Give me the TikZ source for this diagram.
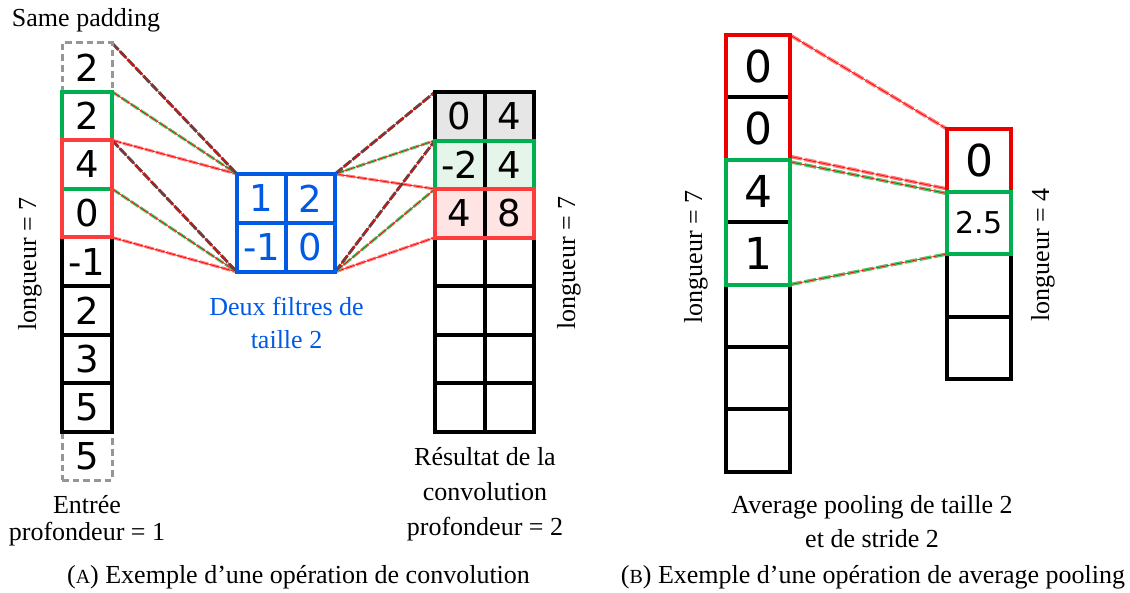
\documentclass[tikz,border=0pt]{standalone}
\usepackage{fontspec}
\setmainfont{Liberation Serif}
\newfontfamily\numf{DejaVu Sans}
\pgfdeclarelayer{bg}
\pgfsetlayers{bg,main}
\definecolor{cred}{RGB}{255,60,60}
\definecolor{cgreen}{RGB}{0,176,80}
\definecolor{pred}{RGB}{235,0,0}
\definecolor{fblue}{RGB}{0,90,230}
\definecolor{pgray}{RGB}{150,150,150}
\definecolor{fillgray}{RGB}{230,230,230}
\definecolor{fillgreen}{RGB}{229,245,234}
\definecolor{fillred}{RGB}{255,228,228}
\definecolor{linkdark}{RGB}{90,70,70}
\definecolor{linkgreen}{RGB}{80,200,110}
\definecolor{linkpink}{RGB}{255,120,120}
\begin{document}
\begin{tikzpicture}[x=0.75pt,y=-0.75pt,
  incell/.style={minimum width=37.5pt, minimum height=36.45pt, inner sep=0pt, outer sep=0pt, font=\numf\fontsize{27.75}{30}\selectfont},
  fcell/.style={minimum width=36.75pt, minimum height=36.75pt, inner sep=0pt, outer sep=0pt, draw=fblue, line width=3pt, text=fblue, font=\numf\fontsize{27.75}{30}\selectfont},
  ocell/.style={minimum width=37.125pt, minimum height=36.375pt, inner sep=0pt, outer sep=0pt, draw=black, line width=3pt, font=\numf\fontsize{27.75}{30}\selectfont},
  pcell/.style={minimum width=48pt, minimum height=46.8pt, inner sep=0pt, outer sep=0pt, draw=black, line width=3pt, font=\numf\fontsize{33}{36}\selectfont},
  blackcell/.style={draw=black, line width=3pt},
  padcell/.style={draw=pgray, line width=2.25pt, dash pattern=on 5pt off 3pt},
  greenbox/.style={draw=cgreen, line width=3pt},
  redbox/.style={draw=cred, line width=3pt},
  pgreenbox/.style={draw=cgreen, line width=3pt},
  predbox/.style={draw=pred, line width=3pt},
  lk/.style={line width=2.2pt, draw=linkdark, dash pattern=on 7pt off 1.5pt, postaction={draw=red, solid, line width=0.5pt}},
  lg/.style={line width=2.2pt, draw=linkgreen, dash pattern=on 7pt off 1.5pt, postaction={draw=red, solid, line width=0.5pt}},
  lr/.style={line width=2.2pt, draw=linkpink, dash pattern=on 7pt off 1.5pt, postaction={draw=red, solid, line width=0.5pt}},
  plr/.style={line width=2.6pt, draw=linkpink, dash pattern=on 9pt off 2pt, postaction={draw=red, solid, line width=0.5pt}},
  plg/.style={line width=2.6pt, draw=linkgreen, dash pattern=on 9pt off 2pt, postaction={draw=red, solid, line width=0.5pt}},
  lbl/.style={inner sep=0pt, font=\fontsize{19.5}{24}\selectfont}
]
\useasboundingbox (0,0) rectangle (1130,592);

% ---------------- Input column ----------------
\node[incell, padcell] (i0) at (87,67.3) {2};
\node[incell, padcell] (i8) at (87,456.1) {5};
\node[incell] (i1) at (87,115.9) {2};
\node[incell] (i2) at (87,164.5) {4};
\node[incell] (i3) at (87,213.1) {0};
\node[incell, blackcell] (i4) at (87,261.7) {-1};
\node[incell, blackcell] (i5) at (87,310.3) {2};
\node[incell, blackcell] (i6) at (87,358.9) {3};
\node[incell, blackcell] (i7) at (87,407.5) {5};
\draw[greenbox] (i1.north west) rectangle (i2.south east);
\draw[redbox] (i2.north west) rectangle (i3.south east);

% ---------------- Filters ----------------
\node[fcell] (f00) at (261.5,198.5) {1};
\node[fcell] (f01) at (310.5,198.5) {2};
\node[fcell] (f10) at (261.5,247.5) {-1};
\node[fcell] (f11) at (310.5,247.5) {0};

% ---------------- Output of convolution ----------------
\node[ocell, fill=fillgray] (o00) at (459.75,116.25) {0};
\node[ocell, fill=fillgray] (o01) at (509.25,116.25) {4};
\node[ocell, fill=fillgreen] (o10) at (459.75,164.75) {-2};
\node[ocell, fill=fillgreen] (o11) at (509.25,164.75) {4};
\node[ocell, fill=fillred] (o20) at (459.75,213.25) {4};
\node[ocell, fill=fillred] (o21) at (509.25,213.25) {8};
\node[ocell] (o30) at (459.75,261.75) {};
\node[ocell] (o31) at (509.25,261.75) {};
\node[ocell] (o40) at (459.75,310.25) {};
\node[ocell] (o41) at (509.25,310.25) {};
\node[ocell] (o50) at (459.75,358.75) {};
\node[ocell] (o51) at (509.25,358.75) {};
\node[ocell] (o60) at (459.75,407.25) {};
\node[ocell] (o61) at (509.25,407.25) {};
\draw[greenbox] (o10.north west) rectangle (o11.south east);
\draw[redbox] (o20.north west) rectangle (o21.south east);

% ---------------- Connectors (convolution) ----------------
\begin{pgfonlayer}{bg}
\draw[lr] (i2.north east) -- (f00.north west);
\draw[lr] (i3.south east) -- (f10.south west);
\draw[lg] (i1.north east) -- (f00.north west);
\draw[lg] (i2.south east) -- (f10.south west);
\draw[lk] (i0.north east) -- (f00.north west);
\draw[lk] (i1.south east) -- (f10.south west);
\draw[lr] (f01.north east) -- (o20.north west);
\draw[lr] (f11.south east) -- (o20.south west);
\draw[lg] (f01.north east) -- (o10.north west);
\draw[lg] (f11.south east) -- (o10.south west);
\draw[lk] (f01.north east) -- (o00.north west);
\draw[lk] (f11.south east) -- (o00.south west);
\end{pgfonlayer}

% ---------------- Labels (convolution) ----------------
\node[lbl, anchor=base] (same) at (86,27) {Same padding};
\node[lbl, rotate=90] (lenin) at (30,264) {longueur = 7};
\node[lbl, rotate=90] (lenout) at (569,263) {longueur = 7};
\node[lbl, anchor=base, text=fblue] (filt1) at (286.5,315) {Deux filtres de};
\node[lbl, anchor=base, text=fblue] (filt2) at (286.5,348) {taille 2};
\node[lbl, anchor=base] (ent1) at (87,513) {Entrée};
\node[lbl, anchor=base] (ent2) at (87,540) {profondeur = 1};
\node[lbl, anchor=base] (res1) at (485,465) {Résultat de la};
\node[lbl, anchor=base] (res2) at (485,500) {convolution};
\node[lbl, anchor=base] (res3) at (485,535) {profondeur = 2};
\node[lbl, anchor=base] (capA) at (298.5,583) {({\fontsize{15}{15}\selectfont A}) Exemple d’une opération de convolution};

% ---------------- Pooling ----------------
\node[pcell] (p0) at (758,66.2) {0};
\node[pcell] (p1) at (758,128.6) {0};
\node[pcell] (p2) at (758,191) {4};
\node[pcell] (p3) at (758,253.4) {1};
\node[pcell] (p4) at (758,315.8) {};
\node[pcell] (p5) at (758,378.2) {};
\node[pcell] (p6) at (758,440.6) {};
\draw[predbox] (p0.north west) rectangle (p1.south east);
\draw[pgreenbox] (p2.north west) rectangle (p3.south east);

\node[pcell, minimum height=46.875pt] (q0) at (979,160.25) {0};
\node[pcell, minimum height=46.875pt, font=\numf\fontsize{22.5}{25}\selectfont] (q1) at (979,222.75) {2.5};
\node[pcell, minimum height=46.875pt] (q2) at (979,285.25) {};
\node[pcell, minimum height=46.875pt] (q3) at (979,347.75) {};
\draw[predbox] (q0.north west) rectangle (q0.south east);
\draw[pgreenbox] (q1.north west) rectangle (q1.south east);

\begin{pgfonlayer}{bg}
\draw[plr] (p0.north east) -- (q0.north west);
\draw[plr] ([yshift=2.5pt]p1.south east) -- ([yshift=2pt]q0.south west);
\draw[plg] ([yshift=-1.5pt]p2.north east) -- ([yshift=-1.5pt]q1.north west);
\draw[plg] (p3.south east) -- (q1.south west);
\end{pgfonlayer}

\node[lbl, rotate=90] (lenp) at (696,257) {longueur = 7};
\node[lbl, rotate=90] (lenq) at (1043,255) {longueur = 4};
\node[lbl, anchor=base] (avg1) at (872,513) {Average pooling de taille 2};
\node[lbl, anchor=base] (avg2) at (872,547) {et de stride 2};
\node[lbl, anchor=base] (capB) at (873,583) {({\fontsize{15}{15}\selectfont B}) Exemple d’une opération de average pooling};
\end{tikzpicture}
\end{document}
